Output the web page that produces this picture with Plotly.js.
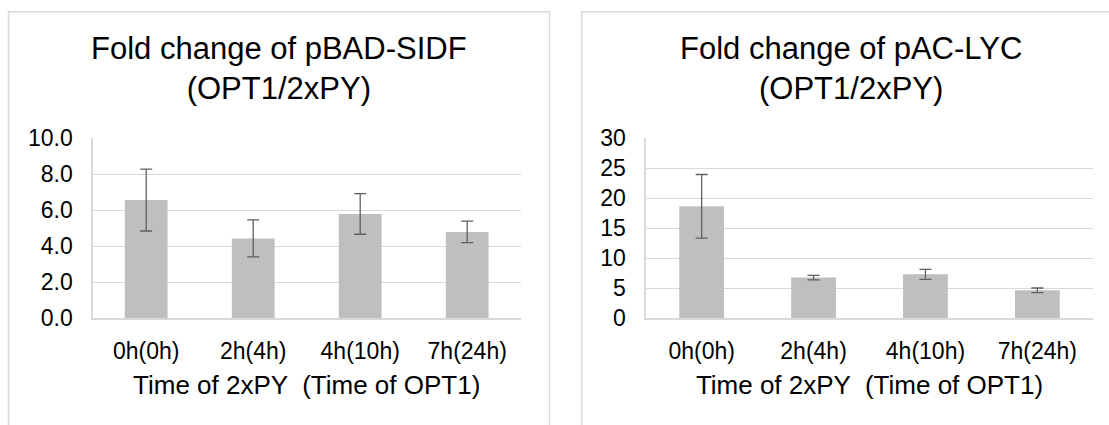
<!DOCTYPE html>
<html>
<head>
<meta charset="utf-8">
<script src="https://cdn.plot.ly/plotly-3.0.1.min.js"></script>
<style>
  html, body { margin: 0; padding: 0; background: #ffffff; overflow: hidden; }
  #chart { width: 1109px; height: 425px; }
</style>
</head>
<body>
<div id="chart"></div>
<script>
// ---- data ----
const categories = ['0h(0h)', '2h(4h)', '4h(10h)', '7h(24h)'];
const sidfMean = [6.57, 4.44, 5.80, 4.80];
const sidfErr = [1.72, 1.03, 1.13, 0.60];
const lycMean = [18.67, 6.78, 7.33, 4.67];
const lycErr = [5.30, 0.38, 0.83, 0.38];
const titleLeft = 'Fold change of pBAD-SIDF<br>(OPT1/2xPY)';
const titleRight = 'Fold change of pAC-LYC<br>(OPT1/2xPY)';
const xTitle = 'Time of 2xPY  (Time of OPT1)';

// ---- style ----
const W = 1109, H = 425;
const FONT = '"Liberation Sans", Arial, sans-serif';
const barColor = '#bfbfbf';
const gridColor = '#d9d9d9';
const errColor = '#5f5f5f';
const px = v => v / W;
const py = v => 1 - v / H;

function barTrace(y, err, xa, ya) {
  return {
    type: 'bar', x: categories, y: y, xaxis: xa, yaxis: ya,
    marker: { color: barColor, line: { width: 0 } },
    error_y: { type: 'data', array: err, visible: true, color: errColor, thickness: 1.3, width: 6 },
    hoverinfo: 'skip', showlegend: false
  };
}

const xCommon = {
  type: 'category', showgrid: false, zeroline: false,
  showline: true, linecolor: gridColor, linewidth: 1.3,
  ticks: '', ticklabelstandoff: 12,
  tickfont: { family: FONT, size: 23, color: '#000' },
  title: { text: xTitle, font: { family: FONT, size: 26, color: '#000' }, standoff: 12 },
  fixedrange: true
};
const yCommon = {
  showgrid: true, gridcolor: gridColor, gridwidth: 1.3,
  zeroline: false, showline: true, linecolor: gridColor, linewidth: 1.3,
  ticks: '', ticklabelstandoff: 14,
  tickfont: { family: FONT, size: 23, color: '#000' },
  fixedrange: true
};

const data = [
  barTrace(sidfMean, sidfErr, 'x', 'y'),
  barTrace(lycMean, lycErr, 'x2', 'y2')
];

const yDom = [py(318.3), py(138.3)];

const layout = {
  width: W, height: H,
  margin: { l: 0, r: 0, t: 0, b: 0 },
  paper_bgcolor: '#ffffff', plot_bgcolor: '#ffffff',
  bargap: 0.6,
  font: { family: FONT, color: '#000' },
  xaxis: Object.assign({}, xCommon, { domain: [px(92.7), px(520.7)], anchor: 'y' }),
  yaxis: Object.assign({}, yCommon, { domain: yDom, range: [0, 10], dtick: 2, tickformat: '.1f', anchor: 'x' }),
  xaxis2: Object.assign({}, xCommon, { domain: [px(645.7), px(1093.3)], anchor: 'y2' }),
  yaxis2: Object.assign({}, yCommon, { domain: yDom, range: [0, 30], dtick: 5, anchor: 'x2' }),
  shapes: [
    { type: 'rect', xref: 'paper', yref: 'paper', x0: px(8.5), x1: px(549.5), y0: -0.2, y1: py(11.7),
      line: { color: gridColor, width: 1.5 }, fillcolor: 'rgba(0,0,0,0)', layer: 'below' },
    { type: 'rect', xref: 'paper', yref: 'paper', x0: px(581.7), x1: 1.1, y0: -0.2, y1: py(11.7),
      line: { color: gridColor, width: 1.5 }, fillcolor: 'rgba(0,0,0,0)', layer: 'below' }
  ],
  annotations: [
    { text: titleLeft, xref: 'paper', yref: 'paper', x: px(278.5), y: py(68),
      xanchor: 'center', yanchor: 'middle', showarrow: false,
      font: { family: FONT, size: 31, color: '#000' } },
    { text: titleRight, xref: 'paper', yref: 'paper', x: px(851), y: py(68),
      xanchor: 'center', yanchor: 'middle', showarrow: false,
      font: { family: FONT, size: 31, color: '#000' } }
  ]
};

Plotly.newPlot('chart', data, layout, { staticPlot: true, displayModeBar: false });
</script>
</body>
</html>
